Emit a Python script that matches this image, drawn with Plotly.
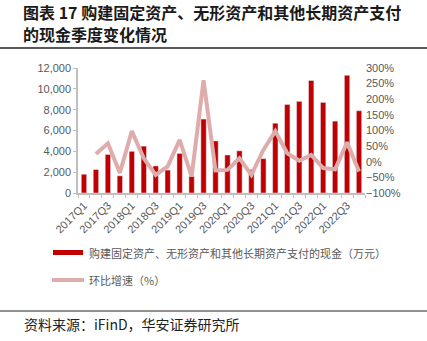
import plotly.graph_objects as go

quarters = [f"{y}Q{q}" for y in range(2017, 2023) for q in range(1, 5)]
capex = [1800, 2250, 3700, 1650, 4000, 4500, 2600, 2200, 3800, 1600, 7100, 5000,
         3650, 4050, 2250, 3300, 6700, 8500, 8800, 10800, 8700, 6900, 11300, 7900]
qoq = [None, 25, 59, -36, 98, 11, -42, -15, 70, -47, 261, -28,
       -26, 11, -42, 38, 98, 27, 3, 22, -20, -24, 62, -31]
tick_text = [q if i % 2 == 0 else "" for i, q in enumerate(quarters)]
bar_name = "购建固定资产、无形资产和其他长期资产支付的现金（万元）"
line_name = "环比增速（%）"

BAR_COLOR = "#C00000"
LINE_COLOR = "#DFACAC"
GRAY = "#595959"
TICKFONT = dict(family="Liberation Sans, Arial", size=11, color=GRAY)

fig = go.Figure()
fig.add_trace(go.Bar(x=quarters, y=capex, name=bar_name, marker_color=BAR_COLOR,
                     showlegend=False))
fig.add_trace(go.Scatter(x=quarters, y=qoq, name=line_name, yaxis="y2", mode="lines",
                         line=dict(color=LINE_COLOR, width=4), showlegend=False))

fig.update_layout(
    width=427, height=341,
    margin=dict(l=78, r=62, t=68, b=148),
    paper_bgcolor="white", plot_bgcolor="white",
    bargap=0.55,
    xaxis=dict(type="category", tickvals=quarters, ticktext=tick_text, tickangle=-45,
               tickson="boundaries", ticks="outside", ticklen=3, tickcolor="#BFBFBF",
               showline=True, linecolor="#BFBFBF", linewidth=1.5, showgrid=False,
               tickfont=TICKFONT),
    yaxis=dict(range=[0, 12000], dtick=2000, tickformat=",", showgrid=False,
               showline=True, linecolor="#BFBFBF", linewidth=1.5, ticks="outside",
               ticklen=3, tickcolor="#BFBFBF", tickfont=TICKFONT, zeroline=False),
    yaxis2=dict(range=[-100, 300], dtick=50, ticksuffix="%", overlaying="y",
                side="right", showgrid=False, showline=False, zeroline=False,
                tickfont=TICKFONT),
)

W, H = 427, 341
def px(x): return (x - 78) / (W - 78 - 62)
def py(y): return (H - 148 - y) / (H - 68 - 148)

# Title
fig.add_annotation(text="<b>图表 17 购建固定资产、无形资产和其他长期资产支付</b>",
                   xref="paper", yref="paper", x=px(21), y=py(12),
                   xanchor="left", yanchor="middle", showarrow=False,
                   font=dict(family="Noto Sans CJK SC", size=16, color="#1A1A1A"))
fig.add_annotation(text="<b>的现金季度变化情况</b>",
                   xref="paper", yref="paper", x=px(21), y=py(34),
                   xanchor="left", yanchor="middle", showarrow=False,
                   font=dict(family="Noto Sans CJK SC", size=16, color="#1A1A1A"))

fig.add_shape(type="line", xref="paper", yref="paper", x0=px(0), x1=px(427),
              y0=py(48), y1=py(48), line=dict(color="#222222", width=1.5))
fig.add_shape(type="line", xref="paper", yref="paper", x0=px(0), x1=px(427),
              y0=py(311), y1=py(311), line=dict(color="#222222", width=1.2))

# Legend (manual)
fig.add_shape(type="rect", xref="paper", yref="paper", x0=px(53), x1=px(83),
              y0=py(255), y1=py(250), fillcolor=BAR_COLOR, line=dict(width=0))
fig.add_annotation(text=bar_name, xref="paper", yref="paper", x=px(87), y=py(252.5),
                   xanchor="left", yanchor="middle", showarrow=False,
                   font=dict(family="Noto Sans CJK SC", size=11, color=GRAY))
fig.add_shape(type="line", xref="paper", yref="paper", x0=px(52), x1=px(84),
              y0=py(280), y1=py(280), line=dict(color=LINE_COLOR, width=4))
fig.add_annotation(text=line_name, xref="paper", yref="paper", x=px(87), y=py(280),
                   xanchor="left", yanchor="middle", showarrow=False,
                   font=dict(family="Noto Sans CJK SC", size=11, color=GRAY))

# Source
fig.add_annotation(text="资料来源：iFinD，华安证券研究所", xref="paper", yref="paper",
                   x=px(22), y=py(324), xanchor="left", yanchor="middle",
                   showarrow=False,
                   font=dict(family="Noto Sans CJK SC", size=14, color="#222222"))

fig.write_html("out.html")
